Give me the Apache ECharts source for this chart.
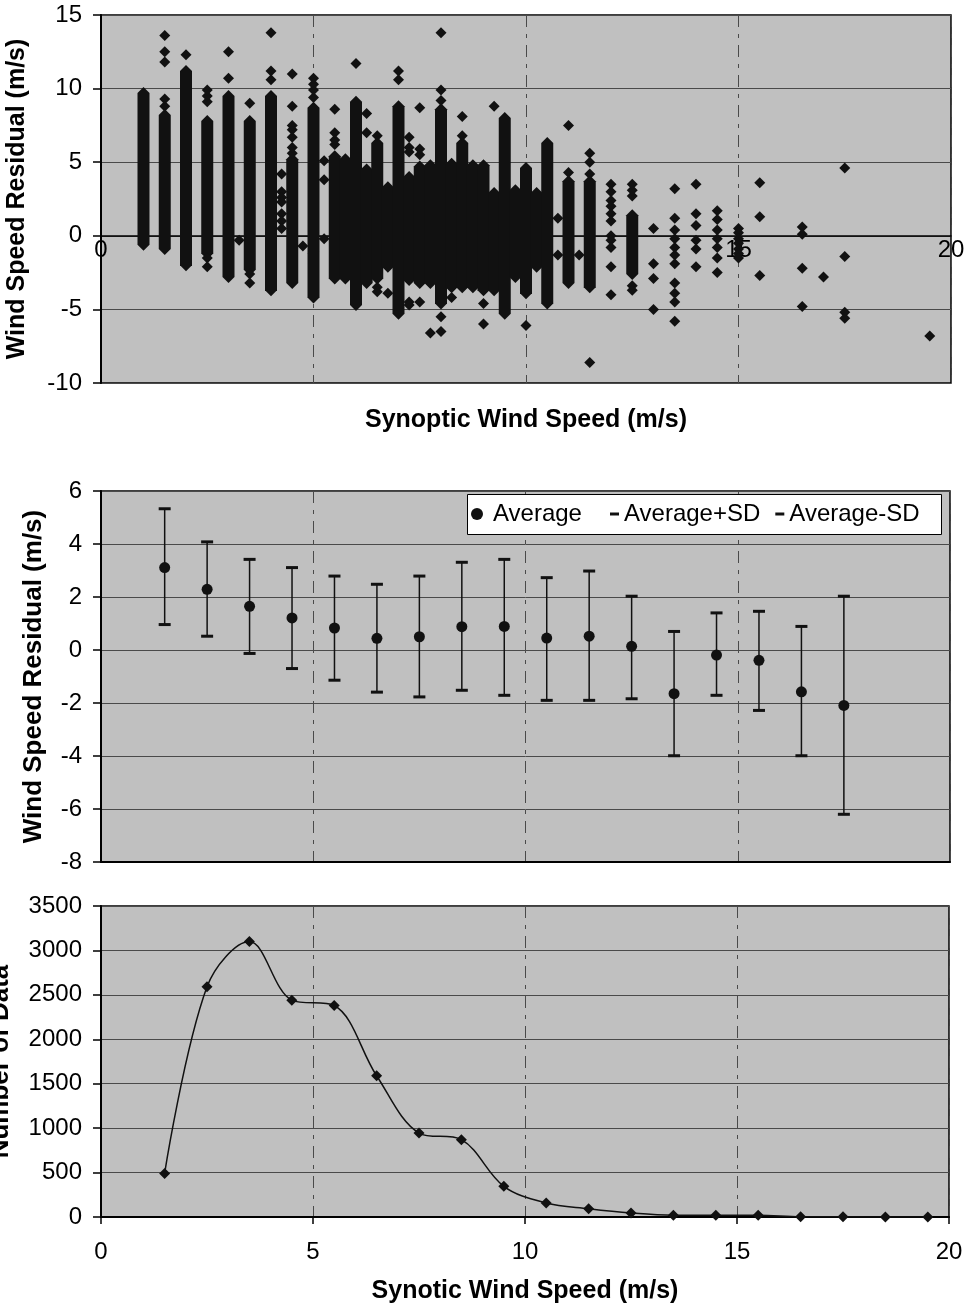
<!DOCTYPE html>
<html>
<head>
<meta charset="utf-8">
<script src="https://cdn.jsdelivr.net/npm/echarts@6/dist/echarts.min.js"></script>
<style>
  html, body { margin: 0; padding: 0; background: #fff; }
  #chart { width: 967px; height: 1309px; }
</style>
</head>
<body>
<div id="chart"></div>
<script>
// --- top panel: residual vs synoptic speed ---
// dense columns (solid stacks of diamonds): x, lowest, highest
const denseX  = [1.0, 1.5, 2.0, 2.5, 3.0, 3.5, 4.0, 4.5, 5.0, 5.5, 5.75, 6.0, 6.25, 6.5, 6.75, 7.0, 7.25, 7.5, 7.75, 8.0, 8.25, 8.5, 8.75, 9.0, 9.25, 9.5, 9.75, 10.0, 10.25, 10.5, 11.0, 11.5, 12.5];
const denseLo = [-0.6, -0.9, -2.0, -1.2, -2.8, -2.3, -3.7, -3.2, -4.2, -2.9, -2.9, -4.7, -3.2, -2.9, -2.1, -5.3, -3.0, -3.2, -3.2, -4.6, -3.5, -3.5, -3.5, -3.7, -3.7, -5.3, -2.8, -3.9, -2.1, -4.6, -3.2, -3.5, -2.6];
const denseHi = [9.7, 8.2, 11.2, 7.8, 9.5, 7.8, 9.5, 5.2, 8.7, 5.4, 5.2, 9.1, 4.5, 6.3, 3.3, 8.8, 4.0, 4.7, 4.8, 8.6, 4.9, 6.3, 4.8, 4.8, 2.9, 8.0, 3.1, 4.6, 2.9, 6.3, 3.7, 3.7, 1.4];

// separate diamonds, per column
const pointCols = [1.5, 2.0, 2.5, 3.0, 3.25, 3.5, 4.0, 4.25, 4.5, 4.75, 5.0, 5.25, 5.5, 6.0, 6.25, 6.5, 6.75, 7.0, 7.25, 7.5, 7.75, 8.0, 8.25, 8.5, 9.0, 9.25, 10.0, 10.75, 11.0, 11.25, 11.5, 12.0, 12.5, 13.0, 13.5, 14.0, 14.5, 15.0, 15.5, 16.5, 17.0, 17.5, 19.5];
const pointVals = [
  [8.8, 9.3, 11.8, 12.5, 13.6],
  [12.3],
  [9.1, 9.5, 9.9, -1.5, -2.1],
  [10.7, 12.5],
  [-0.3],
  [9.0, -2.6, -3.2],
  [10.6, 11.2, 13.8],
  [4.2, 3.0, 2.6, 2.3, 1.5, 1.0, 0.5],
  [5.6, 6.0, 6.7, 7.2, 7.5, 8.8, 11.0],
  [-0.7],
  [9.4, 9.9, 10.3, 10.7],
  [5.1, 3.8, -0.2],
  [6.2, 6.5, 7.0, 8.6],
  [11.7],
  [7.0, 8.3],
  [6.8, -3.5, -3.8],
  [-3.9],
  [10.6, 11.2],
  [5.7, 6.0, 6.7, -4.5, -4.7],
  [5.5, 5.9, 8.7, -4.5],
  [-6.6],
  [9.2, 9.9, 13.8, -5.5, -6.5],
  [-4.2],
  [6.8, 8.1],
  [-4.6, -6.0],
  [8.8],
  [-6.1],
  [1.2, -1.3],
  [4.3, 7.5],
  [-1.3],
  [4.2, 5.0, 5.6, -8.6],
  [3.5, 3.0, 2.4, 2.0, 1.5, 1.0, 0.0, -0.3, -0.8, -2.1, -4.0],
  [2.7, 3.1, 3.5, -3.4, -3.7],
  [0.5, -1.9, -2.9, -5.0],
  [3.2, 1.2, 0.4, -0.2, -0.8, -1.3, -1.9, -3.2, -3.9, -4.5, -5.8],
  [3.5, 1.5, 0.7, -0.3, -0.9, -2.1],
  [1.7, 1.1, 0.4, -0.2, -0.8, -1.5, -2.5],
  [0.5, 0.2, -0.2, -0.5, -0.9, -1.2, -1.5],
  [3.6, 1.3, -2.7],
  [0.6, 0.1, -2.2, -4.8],
  [-2.8],
  [4.6, -1.4, -5.2, -5.6],
  [-6.8]
];

// --- middle panel: binned average and SD ---
const binX     = [1.5, 2.5, 3.5, 4.5, 5.5, 6.5, 7.5, 8.5, 9.5, 10.5, 11.5, 12.5, 13.5, 14.5, 15.5, 16.5, 17.5];
const binAvg   = [3.11, 2.29, 1.65, 1.21, 0.83, 0.44, 0.50, 0.88, 0.89, 0.45, 0.52, 0.14, -1.65, -0.19, -0.39, -1.58, -2.09];
const binPlus  = [5.33, 4.08, 3.42, 3.11, 2.79, 2.48, 2.79, 3.31, 3.42, 2.73, 2.98, 2.03, 0.70, 1.40, 1.46, 0.89, 2.03];
const binMinus = [0.96, 0.52, -0.13, -0.70, -1.14, -1.59, -1.77, -1.52, -1.71, -1.90, -1.90, -1.84, -3.99, -1.71, -2.28, -3.99, -6.20];

// --- bottom panel: number of data per bin ---
const countX = [1.5, 2.5, 3.5, 4.5, 5.5, 6.5, 7.5, 8.5, 9.5, 10.5, 11.5, 12.5, 13.5, 14.5, 15.5, 16.5, 17.5, 18.5, 19.5];
const countY = [490, 2590, 3100, 2440, 2380, 1590, 945, 870, 345, 158, 94, 45, 19, 19, 19, 3, 2, 1, 1];

const FONT = 'Liberation Sans, Arial, sans-serif';
const INK = '#111';
const GRID_BG = '#c0c0c0';
const GRID_LINE = '#4a4a4a';

const denseData = denseX.map((x, i) => [x, denseLo[i], denseHi[i]]);
const pointData = [];
pointCols.forEach((x, i) => pointVals[i].forEach(y => pointData.push([x, y])));

const tickFont = { fontFamily: FONT, fontSize: 24, color: '#000' };
const titleFont = size => ({ fontFamily: FONT, fontSize: size, fontWeight: 'bold', color: '#000' });

function xAxisBase(gridIndex) {
  return {
    type: 'value', gridIndex: gridIndex, min: 0, max: 20, interval: 5,
    splitLine: { show: true, lineStyle: { color: GRID_LINE, width: 1, type: [12, 7, 4, 7] } },
    axisLine: { show: true, onZero: false, lineStyle: { color: '#000', width: 2 } },
    axisTick: { show: false },
    axisLabel: { show: false },
    nameLocation: 'middle',
    nameTextStyle: titleFont(25)
  };
}
function yAxisBase(gridIndex, min, max, interval) {
  return {
    type: 'value', gridIndex: gridIndex, min: min, max: max, interval: interval,
    axisLine: { show: true, onZero: false, lineStyle: { color: '#000', width: 2 } },
    axisTick: { show: true, inside: false, length: 8, lineStyle: { color: '#000', width: 1.5 } },
    axisLabel: Object.assign({ margin: 19, formatter: v => String(v) }, tickFont),
    splitLine: { show: true, lineStyle: { color: GRID_LINE, width: 1 } },
    nameLocation: 'middle',
    nameTextStyle: titleFont(25)
  };
}

const chart = echarts.init(document.getElementById('chart'), null, { renderer: 'canvas' });

const gridCommon = { show: true, backgroundColor: GRID_BG, borderColor: '#000', borderWidth: 1.5, outerBoundsMode: 'none', containLabel: false };

const option = {
  backgroundColor: '#fff',
  animation: false,
  grid: [
    Object.assign({ left: 101, top: 15, right: 16, height: 368 }, gridCommon),
    Object.assign({ left: 101, top: 491, right: 17, height: 371 }, gridCommon),
    Object.assign({ left: 101, top: 906, right: 18, height: 311 }, gridCommon),
    // helper grid ending at the zero line of the top panel, carries its x labels
    { left: 101, top: 15, right: 16, height: 220.8, show: false, outerBoundsMode: 'none', containLabel: false }
  ],
  xAxis: [
    Object.assign(xAxisBase(0), {
      axisLine: { show: true, onZero: true, lineStyle: { color: '#000', width: 1.5 } }
    }),
    xAxisBase(1),
    Object.assign(xAxisBase(2), {
      axisTick: { show: true, inside: false, length: 7, lineStyle: { color: '#000', width: 1.5 } },
      axisLabel: Object.assign({ margin: 23, showMinLabel: true, showMaxLabel: true }, tickFont),
      name: 'Synotic Wind Speed (m/s)', nameGap: 62
    }),
    {
      type: 'value', gridIndex: 3, min: 0, max: 20, interval: 5,
      axisLine: { show: false }, axisTick: { show: false }, splitLine: { show: false },
      axisLabel: Object.assign({ margin: 3, showMinLabel: true, showMaxLabel: true }, tickFont),
      name: 'Synoptic Wind Speed (m/s)', nameLocation: 'middle', nameGap: 172,
      nameTextStyle: titleFont(25)
    }
  ],
  yAxis: [
    Object.assign(yAxisBase(0, -10, 15, 5), { name: 'Wind Speed Residual (m/s)', nameGap: 71 }),
    Object.assign(yAxisBase(1, -8, 6, 2), { name: 'Wind Speed Residual (m/s)', nameGap: 54, nameTextStyle: titleFont(26) }),
    Object.assign(yAxisBase(2, 0, 3500, 500), { name: 'Number of Data', nameGap: 87, nameTextStyle: titleFont(26) }),
    { type: 'value', gridIndex: 3, min: 0, max: 15, show: false }
  ],
  legend: [
    {
      data: ['Average'], left: 471, top: 502, padding: 0, z: 12,
      icon: 'circle', itemWidth: 22, itemHeight: 12,
      textStyle: { fontFamily: FONT, fontSize: 24, color: '#000' }
    },
    {
      data: ['Average+SD', 'Average-SD'], left: 610, top: 502, padding: 0, z: 12,
      icon: 'rect', itemWidth: 9, itemHeight: 3, itemGap: 15,
      textStyle: { fontFamily: FONT, fontSize: 24, color: '#000' }
    }
  ],
  graphic: [
    { type: 'rect', left: 467, top: 494, z: 10, shape: { width: 474, height: 40 },
      style: { fill: '#fff', stroke: '#000', lineWidth: 1 } }
  ],
  series: [
    // top: dense stacks
    {
      type: 'custom', xAxisIndex: 0, yAxisIndex: 0, data: denseData, silent: true,
      renderItem: function (params, api) {
        const x = api.value(0);
        const pLo = api.coord([x, api.value(1)]);
        const pHi = api.coord([x, api.value(2)]);
        const h = 6;
        return {
          type: 'polygon',
          shape: { points: [
            [pHi[0], pHi[1] - h], [pHi[0] + h, pHi[1]], [pLo[0] + h, pLo[1]],
            [pLo[0], pLo[1] + h], [pLo[0] - h, pLo[1]], [pHi[0] - h, pHi[1]]
          ] },
          style: { fill: INK }
        };
      }
    },
    // top: isolated diamonds
    {
      type: 'scatter', xAxisIndex: 0, yAxisIndex: 0, data: pointData,
      symbol: 'diamond', symbolSize: [11, 11], itemStyle: { color: INK, opacity: 1 }
    },
    // middle: error bar stems
    {
      type: 'custom', xAxisIndex: 1, yAxisIndex: 1, silent: true,
      data: binX.map((x, i) => [x, binMinus[i], binPlus[i]]),
      renderItem: function (params, api) {
        const x = api.value(0);
        const a = api.coord([x, api.value(1)]);
        const b = api.coord([x, api.value(2)]);
        return { type: 'line', shape: { x1: a[0], y1: a[1], x2: b[0], y2: b[1] },
                 style: { stroke: INK, lineWidth: 1.5 } };
      }
    },
    {
      name: 'Average+SD', type: 'scatter', xAxisIndex: 1, yAxisIndex: 1,
      data: binX.map((x, i) => [x, binPlus[i]]),
      symbol: 'rect', symbolSize: [12, 3], itemStyle: { color: INK, opacity: 1 }
    },
    {
      name: 'Average-SD', type: 'scatter', xAxisIndex: 1, yAxisIndex: 1,
      data: binX.map((x, i) => [x, binMinus[i]]),
      symbol: 'rect', symbolSize: [12, 3], itemStyle: { color: INK, opacity: 1 }
    },
    {
      name: 'Average', type: 'scatter', xAxisIndex: 1, yAxisIndex: 1,
      data: binX.map((x, i) => [x, binAvg[i]]),
      symbol: 'circle', symbolSize: 11, itemStyle: { color: INK, opacity: 1 }
    },
    // bottom: counts
    {
      type: 'line', xAxisIndex: 2, yAxisIndex: 2, smooth: 0.35,
      data: countX.map((x, i) => [x, countY[i]]),
      symbol: 'diamond', symbolSize: 11, showAllSymbol: true,
      lineStyle: { color: INK, width: 1.5 }, itemStyle: { color: INK, opacity: 1 }
    }
  ]
};

chart.setOption(option);
</script>
</body>
</html>
